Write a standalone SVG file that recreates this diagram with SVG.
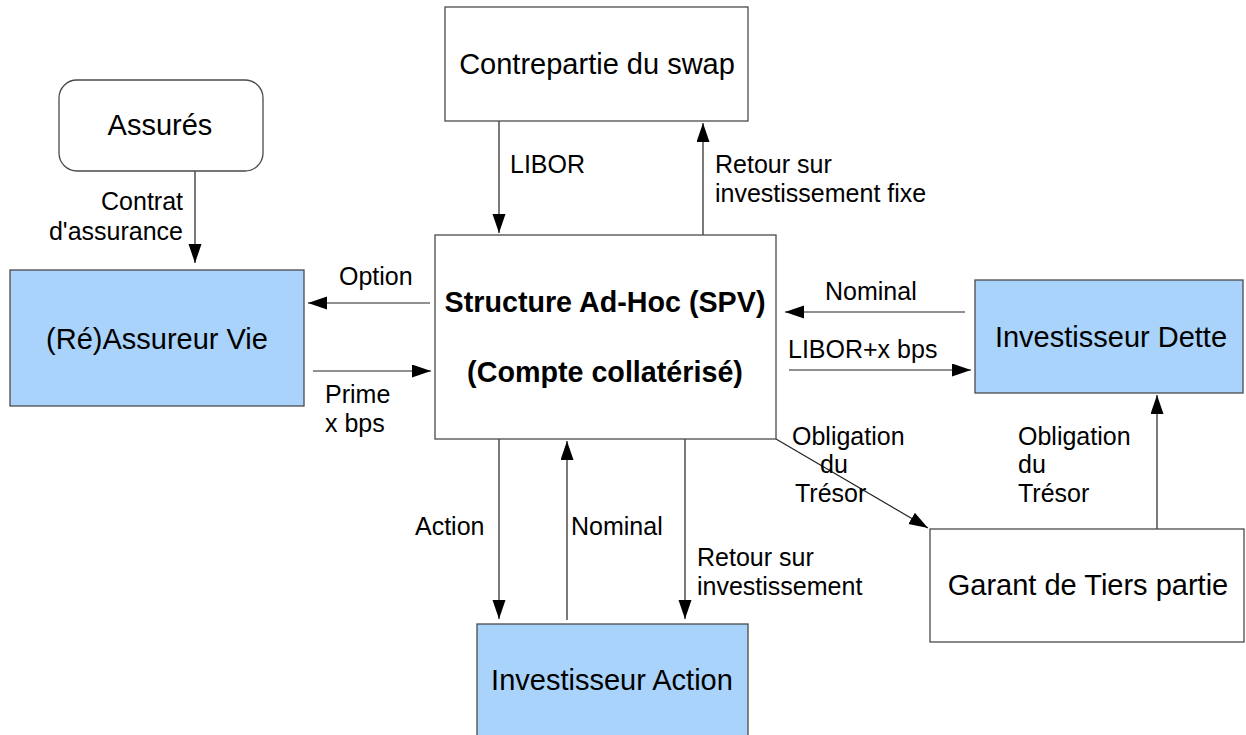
<svg xmlns="http://www.w3.org/2000/svg" width="1246" height="735" viewBox="0 0 1246 735">
  <style>
    .box { fill: #ffffff; stroke: #4a4a4a; stroke-width: 1.3; }
    .blue { fill: #a9d3fb; stroke: #4a4a4a; stroke-width: 1.3; }
    .node { font-family: "Liberation Sans", Arial, sans-serif; font-size: 29px; fill: #000; text-anchor: middle; }
    .bold { font-weight: bold; font-size: 28.7px; }
    .lbl { font-family: "Liberation Sans", Arial, sans-serif; font-size: 25px; fill: #000; }
    .edge { stroke: #222; stroke-width: 1.2; fill: none; marker-end: url(#arrow); }
  </style>
  <defs>
    <marker id="arrow" markerUnits="userSpaceOnUse" markerWidth="20" markerHeight="14" refX="19" refY="6.5" orient="auto">
      <path d="M0,0 L19,6.5 L0,13 z" fill="#000"/>
    </marker>
  </defs>
  <rect width="1246" height="735" fill="#ffffff"/>

  <!-- connectors and their labels -->
  <g id="connectors">
    <line class="edge" x1="195" y1="171" x2="195" y2="263"/>
    <line class="edge" x1="430" y1="303" x2="308" y2="303"/>
    <line class="edge" x1="313" y1="371" x2="431" y2="371"/>
    <line class="edge" x1="499" y1="121" x2="499" y2="233"/>
    <line class="edge" x1="703" y1="235" x2="703" y2="123"/>
    <line class="edge" x1="965" y1="312" x2="785" y2="312"/>
    <line class="edge" x1="789" y1="370" x2="971" y2="370"/>
    <line class="edge" x1="776" y1="439" x2="928" y2="528"/>
    <line class="edge" x1="1157" y1="529" x2="1157" y2="395"/>
    <line class="edge" x1="499" y1="439" x2="499" y2="619"/>
    <line class="edge" x1="567" y1="620" x2="567" y2="441"/>
    <line class="edge" x1="685" y1="439" x2="685" y2="619"/>

    <text class="lbl" x="183" y="210" text-anchor="end">Contrat</text>
    <text class="lbl" x="183" y="240" text-anchor="end">d'assurance</text>
    <text class="lbl" x="339" y="285">Option</text>
    <text class="lbl" x="325" y="403">Prime</text>
    <text class="lbl" x="325" y="432">x bps</text>
    <text class="lbl" x="510" y="173">LIBOR</text>
    <text class="lbl" x="715" y="173">Retour sur</text>
    <text class="lbl" x="715" y="202">investissement fixe</text>
    <text class="lbl" x="825" y="300">Nominal</text>
    <text class="lbl" x="788" y="358">LIBOR+x bps</text>
    <text class="lbl" x="792" y="445">Obligation</text>
    <text class="lbl" x="820" y="473">du</text>
    <text class="lbl" x="795" y="502">Trésor</text>
    <text class="lbl" x="1018" y="445">Obligation</text>
    <text class="lbl" x="1018" y="473">du</text>
    <text class="lbl" x="1018" y="502">Trésor</text>
    <text class="lbl" x="415" y="535">Action</text>
    <text class="lbl" x="571" y="535">Nominal</text>
    <text class="lbl" x="697" y="566">Retour sur</text>
    <text class="lbl" x="697" y="595">investissement</text>
  </g>

  <!-- nodes -->
  <g id="contrepartie">
    <rect class="box" x="445" y="7" width="303" height="114"/>
    <text class="node" x="597" y="74">Contrepartie du swap</text>
  </g>
  <g id="assures">
    <rect class="box" x="59" y="80" width="204" height="91" rx="18" ry="18"/>
    <text class="node" x="160" y="135">Assurés</text>
  </g>
  <g id="reassureur">
    <rect class="blue" x="10" y="270" width="294" height="136"/>
    <text class="node" x="157" y="349">(Ré)Assureur Vie</text>
  </g>
  <g id="spv">
    <rect class="box" x="435" y="235" width="341" height="204"/>
    <text class="node bold" x="605" y="312">Structure Ad-Hoc (SPV)</text>
    <text class="node bold" x="605" y="382">(Compte collatérisé)</text>
  </g>
  <g id="investisseur-dette">
    <rect class="blue" x="975" y="280" width="268" height="113"/>
    <text class="node" x="1111" y="347">Investisseur Dette</text>
  </g>
  <g id="garant">
    <rect class="box" x="930" y="529" width="314" height="113"/>
    <text class="node" x="1088" y="595">Garant de Tiers partie</text>
  </g>
  <g id="investisseur-action">
    <rect class="blue" x="477" y="624" width="271" height="120"/>
    <text class="node" x="612" y="690">Investisseur Action</text>
  </g>
</svg>
